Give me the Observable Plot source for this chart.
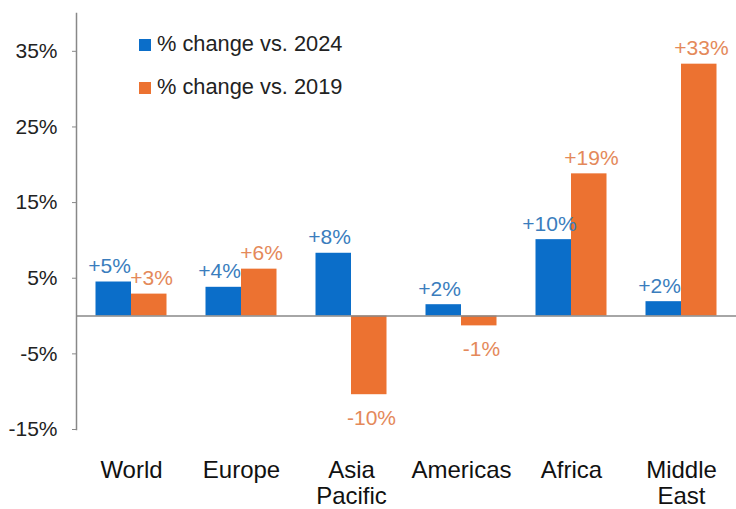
<!DOCTYPE html>
<html>
<head>
<meta charset="utf-8">
<script src="https://cdn.jsdelivr.net/npm/d3@7"></script>
<script src="https://cdn.jsdelivr.net/npm/@observablehq/plot@0.6"></script>
<style>
  html, body { margin: 0; padding: 0; background: #fff; }
  #wrap { position: relative; width: 736px; height: 509px; font-family: "Liberation Sans", Arial, sans-serif; }
  .leg { position: absolute; left: 139px; font-size: 21.8px; color: #222; white-space: nowrap; line-height: 1; }
  .leg span.sw { display: inline-block; width: 12px; height: 12px; margin-right: 6px; vertical-align: baseline; }
</style>
</head>
<body>
<div id="wrap"></div>
<script>
const categories = ["World", "Europe", "Asia\nPacific", "Americas", "Africa", "Middle\nEast"];
const vs2024 = [4.5, 3.8, 8.3, 1.5, 10.1, 1.9];
const vs2019 = [2.9, 6.2, -10.4, -1.3, 18.8, 33.3];
const labels2024 = ["+5%", "+4%", "+8%", "+2%", "+10%", "+2%"];
const labels2019 = ["+3%", "+6%", "-10%", "-1%", "+19%", "+33%"];
const seriesNames = ["% change vs. 2024", "% change vs. 2019"];
const yTicks = [-15, -5, 5, 15, 25, 35];

const blue = "#0b6ec9", orange = "#ec7231";
const blueText = "#3a7dbd", orangeText = "#e4895a";

const rowsA = categories.map((c, i) => ({cat: c, v: vs2024[i], label: labels2024[i]}));
const rowsB = categories.map((c, i) => ({cat: c, v: vs2019[i], label: labels2019[i]}));

const txt = (rows, color, dx) => [
  Plot.text(rows.filter(d => d.v >= 0), {x: "cat", y: "v", text: "label", fill: color, fontSize: 21, dx, dy: -9, lineAnchor: "bottom"}),
  Plot.text(rows.filter(d => d.v < 0), {x: "cat", y: "v", text: "label", fill: color, fontSize: 21, dx, dy: 15, lineAnchor: "top"})
];

const chart = Plot.plot({
  width: 736,
  height: 509,
  marginLeft: 76,
  marginRight: 0,
  marginTop: 13,
  marginBottom: 80,
  style: {fontFamily: "Liberation Sans, Arial, sans-serif", background: "#fff", color: "#222"},
  x: {type: "band", domain: categories, padding: 0, range: [76, 736]},
  y: {domain: [-15, 40]},
  marks: [
    Plot.barY(rowsA, {x: "cat", y: "v", fill: blue, insetLeft: 19.5, insetRight: 55}),
    Plot.barY(rowsB, {x: "cat", y: "v", fill: orange, insetLeft: 55, insetRight: 19.5}),
    Plot.ruleY([0], {stroke: "#888", strokeWidth: 1.5}),
    Plot.frame({anchor: "left", stroke: "#888", strokeWidth: 1.5}),
    Plot.axisY({ticks: yTicks, tickFormat: d => d + "%", fontSize: 21, tickSize: 4, tickPadding: 15, stroke: "#888", fill: "#222", label: null}),
    Plot.axisX({tickSize: 0, tickPadding: 31, fontSize: 24, lineHeight: 1.05, fill: "#111", label: null}),
    ...txt(rowsA, blueText, -22),
    ...txt(rowsB, orangeText, 20)
  ]
});

const wrap = document.getElementById("wrap");
wrap.appendChild(chart);
const legColors = [blue, orange];
const legTops = [33, 76];
seriesNames.forEach((name, i) => {
  const div = document.createElement("div");
  div.className = "leg";
  div.style.top = legTops[i] + "px";
  div.innerHTML = `<span class="sw" style="background:${legColors[i]}"></span>${name}`;
  wrap.appendChild(div);
});
</script>
</body>
</html>
